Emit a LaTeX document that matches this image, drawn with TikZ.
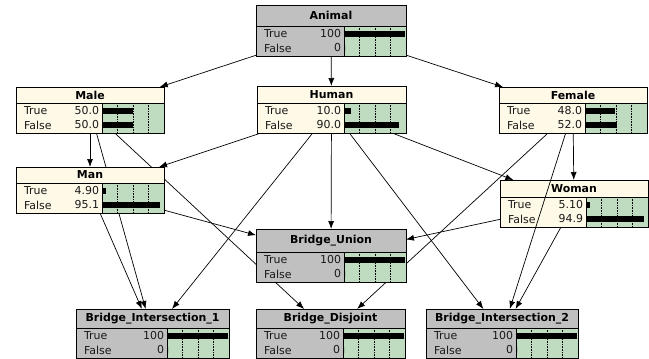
\documentclass[tikz,border=0pt]{standalone}
\usepackage{fontspec}
\setmainfont{DejaVu Sans}
\usepackage{tikz}
\usetikzlibrary{arrows.meta,positioning}
\pgfdeclarelayer{back}
\pgfsetlayers{back,main}
\definecolor{boxgray}{RGB}{192,192,192}
\definecolor{boxcream}{RGB}{255,249,232}
\definecolor{bargreen}{RGB}{192,220,192}

\begin{document}
\begin{tikzpicture}[x=1bp,y=-1bp,
    every node/.style={font=\fontsize{11}{13}\selectfont, inner sep=0pt, outer sep=0pt},
    netbox/.style={rectangle, anchor=north west, inner sep=0pt, outer sep=0pt},
    rowtext/.style={text=black!90},
    edge/.style={-{Latex[length=8bp,width=6bp]}, line width=0.7bp},
    ]
  \useasboundingbox (0,0) rectangle (649,358);

  \foreach \nm/\ttl/\x/\y/\w/\h/\col/\vt/\vf in {
    animal/Animal/256/5/150/51/boxgray/100/0,
    male/Male/16/87/148/46/boxcream/50.0/50.0,
    human/Human/257/86/149/47/boxcream/10.0/90.0,
    female/Female/499/87/148/46/boxcream/48.0/52.0,
    man/Man/16/167/148/46/boxcream/4.90/95.1,
    woman/Woman/500/180/148/47/boxcream/5.10/94.9,
    union/Bridge\_Union/256/229/150/53/boxgray/100/0,
    inter1/Bridge\_Intersection\_1/76/309/153/49/boxgray/100/0,
    disj/Bridge\_Disjoint/256/309/149/49/boxgray/100/0,
    inter2/Bridge\_Intersection\_2/426/309/152/49/boxgray/100/0}
  {
    \pgfmathsetmacro\sep{\y+\h-30}
    \pgfmathsetmacro\bx{\x+\w-62}
    \node[netbox, fill=\col, minimum width=\w bp, minimum height=\h bp] (\nm) at (\x,\y) {};
    \fill[bargreen] (\bx,\sep) rectangle (\x+\w,\y+\h);
    \foreach \k in {0.25,0.5,0.75}
      \draw[densely dotted, line width=0.6bp] (\bx+\k*62,\sep) -- (\bx+\k*62,\y+\h);
    \fill (\bx+1,\sep+5) rectangle (\bx+1+0.6*\vt,\sep+11);
    \fill (\bx+1,\sep+19) rectangle (\bx+1+0.6*\vf,\sep+25);
    \draw[line width=0.6bp] (\x,\sep) -- (\x+\w,\sep);
    \draw[line width=0.6bp] (\bx,\sep) -- (\bx,\y+\h);
    \draw[line width=0.8bp] (\nm.north west) rectangle (\nm.south east);

    \node[font=\fontsize{11}{13}\bfseries] (\nm-name) at (\x+\w/2,\y/2+\sep/2) {\ttl};
    \node[rowtext, anchor=west] (\nm-true) at (\x+8,\sep+8) {True};
    \node[rowtext, anchor=west] (\nm-false) at (\x+8,\sep+22) {False};
    \node[rowtext, anchor=east] (\nm-vt) at (\bx-3,\sep+8) {\vt};
    \node[rowtext, anchor=east] (\nm-vf) at (\bx-3,\sep+22) {\vf};
  }

  \begin{pgfonlayer}{back}
    \draw[edge] (animal) -- (male);
    \draw[edge] (animal) -- (human);
    \draw[edge] (animal) -- (female);
    \draw[edge] (male) -- (man);
    \draw[edge] (human) -- (man);
    \draw[edge] (female) -- (woman);
    \draw[edge] (human) -- (woman);
    \draw[edge] (human) -- (union);
    \draw[edge] (man) -- (union);
    \draw[edge] (woman) -- (union);
    \draw[edge] (male) -- (inter1);
    \draw[edge] (man) -- (inter1);
    \draw[edge] (human) -- (inter1);
    \draw[edge] (male) -- (disj);
    \draw[edge] (female) -- (disj);
    \draw[edge] (human) -- (inter2);
    \draw[edge] (woman) -- (inter2);
  \end{pgfonlayer}
  \draw[edge] (female) -- (inter2);
\end{tikzpicture}
\end{document}
